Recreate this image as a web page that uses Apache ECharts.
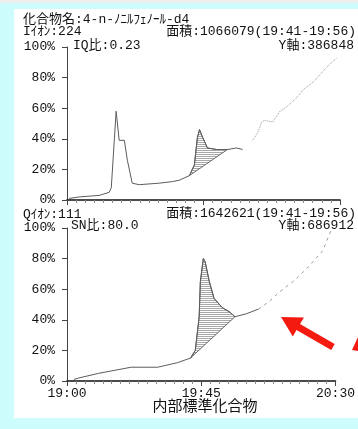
<!DOCTYPE html>
<html>
<head>
<meta charset="utf-8">
<script src="https://cdn.jsdelivr.net/npm/echarts@6/dist/echarts.min.js"></script>
<style>
html,body{margin:0;padding:0;background:#ccfcfc;}
#chart{width:358px;height:429px;}
</style>
</head>
<body>
<div id="chart"></div>
<script>
// Retention time is in minutes after 19:00, response in % of the Y-axis full scale.
const timeTicks = [0, 45, 90];
const timeLabels = ['19:00', '19:45', '20:30'];

// Quantitation ion (m/z 224) trace
const quantTrace = [[0.7,1],[4.0,2],[10.6,3],[13.9,5],[14.6,8],[16.2,58],[17.2,39],[18.9,39],[19.9,26],[21.5,11],[23.8,10],[30.4,11],[34.7,12],[37.1,13],[40.4,16],[42.0,23],[43.0,41],[43.7,46],[44.7,41],[46.3,34],[49.3,33],[52.9,33],[55.9,34],[57.9,33]];
const quantTail = [[61.2,39],[62.9,44],[64.2,51],[65.2,52],[67.8,51],[70.2,58],[72.5,61],[75.8,67],[77.8,72],[81.1,77],[85.7,87],[89.0,93]];
const quantPeakWindow = [40.4, 52.9];

// Qualifier ion (m/z 111) trace
const qualTrace = [[2.3,1],[4.0,2],[10.6,5],[21.5,9],[30.4,9],[37.1,12],[41.4,15],[43.0,20],[44.3,42],[44.7,65],[45.7,80],[46.3,78],[47.7,65],[49.3,54],[52.0,48],[54.6,45],[56.3,42],[60.2,44],[64.2,47]];
const qualTail = [[64.2,47],[67.8,52],[71.1,58],[75.8,65],[80.1,73],[85.7,85],[88.4,98]];
const qualPeakWindow = [41.4, 56.3];

const quantHeader = ['化合物名:4-n-ﾉﾆﾙﾌｪﾉｰﾙ-d4', 'Iｲｵﾝ:224', '面積:1066079(19:41-19:56)', 'IQ比:0.23', 'Y軸:386848'];
const qualHeader = ['Qｲｵﾝ:111', '面積:1642621(19:41-19:56)', 'SN比:80.0', 'Y軸:686912'];
const footerLabel = '内部標準化合物';

const FONT = '"Liberation Mono", "Noto Sans CJK JP", monospace';

// horizontal hatching for the integrated peak area
const hatchCanvas = document.createElement('canvas');
hatchCanvas.width = 4; hatchCanvas.height = 2;
const hctx = hatchCanvas.getContext('2d');
hctx.fillStyle = '#a8a8a8';
hctx.fillRect(0, 0, 4, 1);
const hatch = { image: hatchCanvas, repeat: 'repeat' };

function peakPoints(trace, win) {
  return trace.filter(p => p[0] >= win[0] && p[0] <= win[1]);
}

function peakSeries(trace, win, idx) {
  const pts = peakPoints(trace, win);
  return {
    type: 'custom', xAxisIndex: idx, yAxisIndex: idx, z: 2,
    data: [pts[0]],
    renderItem: function (params, api) {
      return {
        type: 'polygon',
        shape: { points: pts.map(p => api.coord(p)) },
        style: { fill: hatch, stroke: '#5a5a5a', lineWidth: 0.9 }
      };
    }
  };
}

function headerText(text, x, y, align, size) {
  return {
    type: 'text', x: x, y: y, z: 10,
    style: { text: text, font: (size || 13) + 'px ' + FONT, fill: '#111', align: align || 'left', verticalAlign: 'middle' }
  };
}

const chart = echarts.init(document.getElementById('chart'), null, { renderer: 'canvas' });

const xAxisBase = i => ({
  type: 'value', gridIndex: i, min: 0, max: 90, interval: 45,
  axisLine: { show: true, onZero: false, lineStyle: { color: '#111', width: 1.6 } },
  axisTick: { show: true, length: 5, lineStyle: { color: '#444', width: 1 } },
  minorTick: { show: true, splitNumber: 15, length: 3, lineStyle: { color: '#888', width: 1 } },
  splitLine: { show: false },
  minorSplitLine: { show: false },
  axisLabel: {
    show: i === 1, margin: 6, fontFamily: FONT, fontSize: 13, color: '#111',
    formatter: v => { const k = timeTicks.indexOf(v); return k >= 0 ? timeLabels[k] : ''; }
  }
});

const yAxisBase = i => ({
  type: 'value', gridIndex: i, min: 0, max: 100, interval: 20,
  axisLine: { show: true, lineStyle: { color: '#444', width: 1 } },
  axisTick: { show: true, length: 5, lineStyle: { color: '#444' } },
  splitLine: { show: false },
  axisLabel: { formatter: '{value}%', margin: 12, fontFamily: FONT, fontSize: 13, color: '#111' }
});

const traceLine = (data, idx, style) => ({
  type: 'line', xAxisIndex: idx, yAxisIndex: idx, data: data,
  showSymbol: false, symbol: 'none', smooth: false, z: 3, silent: true,
  lineStyle: style
});

chart.setOption({
  animation: false,
  backgroundColor: '#ccfcfc',
  grid: [
    { left: 67, right: 18, top: 47, height: 153 },
    { left: 67, right: 18, top: 228, height: 153 }
  ],
  xAxis: [xAxisBase(0), xAxisBase(1)],
  yAxis: [yAxisBase(0), yAxisBase(1)],
  series: [
    peakSeries(quantTrace, quantPeakWindow, 0),
    traceLine(quantTrace, 0, { color: '#5c5c5c', width: 1 }),
    traceLine(quantTail, 0, { color: '#9c9c9c', width: 1, type: 'dotted' }),
    peakSeries(qualTrace, qualPeakWindow, 1),
    traceLine(qualTrace, 1, { color: '#5c5c5c', width: 1 }),
    traceLine(qualTail, 1, { color: '#9c9c9c', width: 1, type: [3, 4] })
  ],
  graphic: [
    { type: 'rect', z: -10, shape: { x: 0, y: 0, width: 358, height: 3 }, style: { fill: '#eeeeee' } },
    { type: 'rect', z: -10, shape: { x: 14, y: 9, width: 344, height: 409 }, style: { fill: '#ffffff' } },
    headerText(quantHeader[0], 23, 20),
    headerText(quantHeader[1], 23, 32),
    headerText(quantHeader[2], 356, 32, 'right'),
    headerText(quantHeader[3], 73, 46),
    headerText(quantHeader[4], 354, 46, 'right'),
    headerText(qualHeader[0], 23, 215),
    headerText(qualHeader[1], 356, 214, 'right'),
    headerText(qualHeader[2], 71, 226),
    headerText(qualHeader[3], 354, 226, 'right'),
    headerText(footerLabel, 205, 407, 'center', 15),
    // red pointer arrows
    { type: 'polygon', z: 20, shape: { points: [[281,317],[304,317.5],[300,324],[334.7,344],[331.2,350],[296.5,330],[292.8,336.5]] }, style: { fill: '#f41a10' } },
    { type: 'polygon', z: 20, shape: { points: [[352,350],[358,337],[358,351]] }, style: { fill: '#f41a10' } }
  ]
});
</script>
</body>
</html>
